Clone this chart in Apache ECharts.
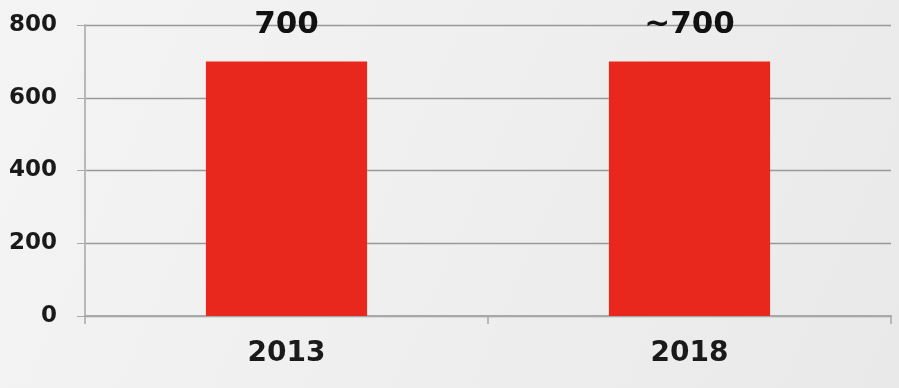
<!DOCTYPE html>
<html><head><meta charset="utf-8">
<script src="https://cdn.jsdelivr.net/npm/echarts@6/dist/echarts.min.js"></script>
<style>html,body{margin:0;padding:0;background:#f1f1f1;}#c{width:899px;height:388px;}</style>
</head><body><div id="c"></div>
<script>
const categories = ['2013', '2018'];
const values = [700, 700];
const valueLabels = ['700', '~700'];
const yTicks = [0, 200, 400, 600, 800];

const chart = echarts.init(document.getElementById('c'));
chart.setOption({
  backgroundColor: {
    type: 'linear', x: 0, y: 0, x2: 1, y2: 1,
    colorStops: [{offset: 0, color: '#f4f4f4'}, {offset: 0.5, color: '#efefef'}, {offset: 1, color: '#e9e9e9'}]
  },
  animation: false,
  grid: {left: 85, right: 8, top: 25, bottom: 72},
  xAxis: {
    type: 'category', data: categories,
    axisLine: {lineStyle: {color: '#a8a8a8', width: 2}},
    axisTick: {show: true, length: 8, lineStyle: {color: '#a8a8a8', width: 1.5}},
    axisLabel: {fontFamily: 'DejaVu Sans', fontWeight: 'bold', fontSize: 28, color: '#1a1a1a', margin: 24}
  },
  yAxis: {
    type: 'value', min: yTicks[0], max: yTicks[yTicks.length - 1], interval: 200,
    axisLine: {show: true, lineStyle: {color: '#b8b8b8', width: 2}},
    axisTick: {show: true, length: 8, lineStyle: {color: '#a8a8a8'}},
    splitLine: {lineStyle: {color: '#999', width: 1.3}},
    axisLabel: {fontFamily: 'DejaVu Sans', fontWeight: 'bold', fontSize: 23, color: '#1a1a1a', margin: 28}
  },
  series: [{
    type: 'bar', data: values, barWidth: '40%',
    itemStyle: {color: '#e8281d'},
    label: {
      show: true, position: 'top', distance: 21,
      formatter: p => valueLabels[p.dataIndex],
      fontFamily: 'DejaVu Sans', fontWeight: 'bold', fontSize: 31, color: '#111'
    }
  }]
});
</script></body></html>
